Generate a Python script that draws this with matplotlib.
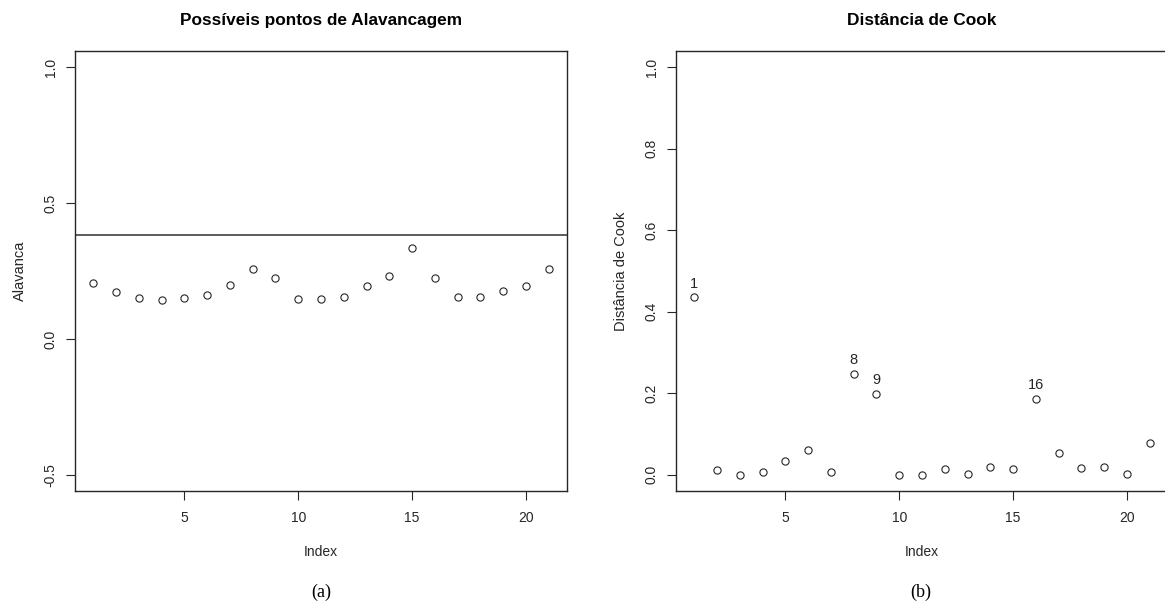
import numpy as np
import matplotlib.pyplot as plt

# valores de alavancagem (h_ii) e distancia de Cook por observacao
indice = list(range(1, 22))
alavanca = [0.204, 0.174, 0.152, 0.144, 0.152, 0.163, 0.200, 0.256, 0.226, 0.148, 0.148,
            0.156, 0.193, 0.233, 0.333, 0.226, 0.156, 0.156, 0.178, 0.193, 0.256]
cook = [0.435, 0.012, 0.000, 0.007, 0.034, 0.061, 0.007, 0.248, 0.199, 0.000, 0.000,
        0.015, 0.002, 0.020, 0.015, 0.187, 0.054, 0.017, 0.020, 0.002, 0.079]
n_obs = 21
n_par = 4
corte = 2 * n_par / n_obs   # linha de corte 2p/n
destaque = [1, 8, 9, 16]    # observacoes identificadas

plt.rcParams['font.family'] = ['Liberation Sans', 'DejaVu Sans']
cor = '#262626'

fig = plt.figure(figsize=(11.65, 6.06), dpi=100)
ax1 = fig.add_axes([0.0644, 0.1898, 0.4223, 0.726])
ax2 = fig.add_axes([0.5803, 0.1898, 0.4223, 0.726])


def estilo_r(ax, yticks, ylim):
    # eixo no estilo dos graficos base do R
    ax.set_xlim(0.2, 21.8)
    ax.set_ylim(*ylim)
    ax.set_xticks([5, 10, 15, 20])
    ax.set_yticks(yticks)
    ax.set_yticklabels([f'{v:.1f}' for v in yticks], rotation=90, va='center')
    ax.tick_params(direction='out', length=6.5, width=0.8, color=cor,
                   labelsize=10, labelcolor=cor)
    ax.tick_params(axis='x', pad=8)
    ax.tick_params(axis='y', pad=6)
    for s in ax.spines.values():
        s.set_color(cor)
        s.set_linewidth(1.0)
    ax.set_xlabel('Index', fontsize=10, color=cor, labelpad=14)


# (a) alavancagem
ax1.plot(indice, alavanca, 'o', mfc='none', mec=cor, ms=5.2, mew=0.8)
ax1.axhline(corte, color='#404040', lw=1.2)
estilo_r(ax1, [-0.5, 0.0, 0.5, 1.0], (-0.56, 1.06))
ax1.set_ylabel('Alavanca', fontsize=10.5, color=cor, labelpad=12)
ax1.set_title('Possíveis pontos de Alavancagem', fontsize=12.4, fontweight='bold',
              pad=19)

# (b) distancia de Cook
ax2.plot(indice, cook, 'o', mfc='none', mec=cor, ms=5.2, mew=0.8)
for i in destaque:
    ax2.annotate(str(i), (i, cook[i - 1]), xytext=(0, 5), textcoords='offset points',
                 ha='center', va='bottom', fontsize=10.5, color=cor)
estilo_r(ax2, [0.0, 0.2, 0.4, 0.6, 0.8, 1.0], (-0.04, 1.04))
ax2.set_ylabel('Distância de Cook', fontsize=10.5, color=cor, labelpad=12)
ax2.set_title('Distância de Cook', fontsize=12.4, fontweight='bold', pad=19)

fig.text(0.2755, 0.008, '(a)', ha='center', va='bottom', fontsize=13,
         family=['Liberation Serif', 'DejaVu Serif'])
fig.text(0.7905, 0.008, '(b)', ha='center', va='bottom', fontsize=13,
         family=['Liberation Serif', 'DejaVu Serif'])

fig.savefig('out.png', dpi=100)
